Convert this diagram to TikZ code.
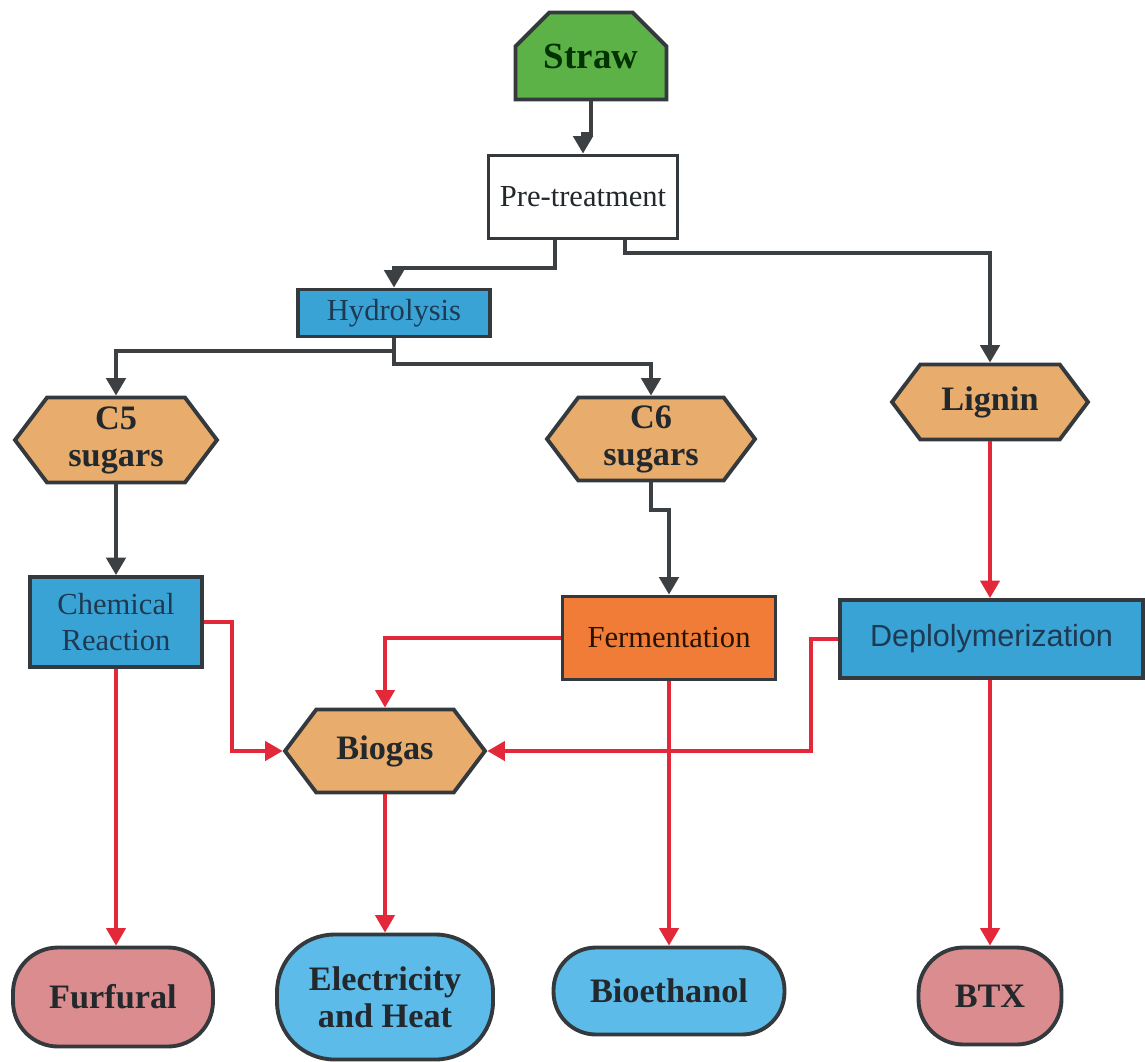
\documentclass[tikz,border=0pt]{standalone}
\usepackage{fontspec}
\setmainfont{Liberation Serif}
\newfontfamily\arialfont{Liberation Sans}
\usepackage{tikz}
\usepackage{xcolor}
\usetikzlibrary{shapes.geometric, shapes.misc, shapes.symbols, arrows.meta, positioning, calc}

\definecolor{strawgreen}{HTML}{5DB247}
\definecolor{edgegray}{HTML}{33393D}
\definecolor{procblue}{HTML}{3AA3D6}
\definecolor{sugartan}{HTML}{E8AC6C}
\definecolor{fermorange}{HTML}{F07C38}
\definecolor{prodpink}{HTML}{DA8C8E}
\definecolor{prodblue}{HTML}{5CBBE8}
\definecolor{navytext}{HTML}{1D3A52}
\definecolor{darktext}{HTML}{22282B}
\definecolor{linegray}{HTML}{3C4043}
\definecolor{linered}{HTML}{E3283A}

\begin{document}
\begin{tikzpicture}[x=0.02cm, y=-0.02cm,
  box/.style={draw=edgegray, line width=2.2pt, align=center, inner sep=2pt, text=darktext},
  process/.style={box, rectangle, fill=procblue, text=navytext, font=\fontsize{17.4}{20}\selectfont},
  sugar/.style={box, signal, signal to=west and east, signal pointer angle=106, fill=sugartan, font=\fontsize{19.5}{21}\selectfont\bfseries},
  product/.style={box, rectangle, font=\fontsize{19.5}{21}\selectfont\bfseries},
  darkarrow/.style={draw=linegray, line width=2.3pt, -{Triangle[length=10pt,width=11pt]}},
  redarrow/.style={draw=linered, line width=2pt, -{Triangle[length=10pt,width=11pt]}},
]
\useasboundingbox (0,0) rectangle (1145,1061);

% feedstock and pre-treatment
\node[box, chamfered rectangle, chamfered rectangle corners={north west, north east},
      chamfered rectangle sep=0.36cm, fill=strawgreen, text=black!80!green,
      minimum width=3.02cm, minimum height=1.74cm,
      font=\fontsize{21}{24}\selectfont\bfseries] (straw) at (591,56) {Straw};
\node[box, rectangle, fill=white, minimum width=3.78cm, minimum height=1.66cm,
      font=\fontsize{17.4}{20}\selectfont] (pre) at (583,197) {Pre-treatment};
\node[process, minimum width=3.84cm, minimum height=0.94cm] (hyd) at (394,313) {Hydrolysis};

% fractions
\node[sugar, minimum width=4.04cm, minimum height=1.7cm] (c5) at (116,440) {C5\\sugars};
\node[sugar, minimum width=4.16cm, minimum height=1.66cm] (c6) at (651,439) {C6\\sugars};
\node[sugar, minimum width=3.92cm, minimum height=1.5cm] (lignin) at (990,402) {Lignin};

% conversion steps
\node[process, minimum width=3.44cm, minimum height=1.8cm] (chem) at (116,622) {Chemical\\Reaction};
\node[process, fill=fermorange, text=black!85!orange, minimum width=4.26cm, minimum height=1.66cm] (ferm) at (669,638) {Fermentation};
\node[process, font=\arialfont\fontsize{17.4}{20}\selectfont, minimum width=6.06cm, minimum height=1.56cm] (depol) at (991.5,639) {Deplolymerization};
\node[sugar, minimum width=4cm, minimum height=1.66cm] (biogas) at (385,751) {Biogas};

% end products
\node[product, fill=prodpink, rounded corners=0.9cm, minimum width=4cm, minimum height=1.98cm] (furf) at (113,997) {Furfural};
\node[product, fill=prodblue, rounded corners=1.15cm, minimum width=4.32cm, minimum height=2.5cm] (elec) at (385,997) {Electricity\\and Heat};
\node[product, fill=prodblue, rounded corners=0.85cm, minimum width=4.62cm, minimum height=1.74cm] (bioeth) at (669,991) {Bioethanol};
\node[product, fill=prodpink, rounded corners=0.9cm, minimum width=2.86cm, minimum height=1.94cm] (btx) at (990,996) {BTX};

% dark connectors
\draw[darkarrow] (straw.south) -- ++(0,33) -| (pre.north);
\draw[darkarrow] ([xshift=-0.56cm]pre.south) -- ++(0,28) -| (hyd.north);
\draw[darkarrow] ([xshift=0.84cm]pre.south) -- ++(0,13) -| (lignin.north);
\draw[darkarrow] (hyd.south) -- ++(0,13) -| (c5.north);
\draw[darkarrow] (hyd.south) -- ++(0,26) -| (c6.north);
\draw[darkarrow] (c5.south) -- (chem.north);
\draw[darkarrow] (c6.south) -- ++(0,28) -| (ferm.north);

% red connectors
\draw[redarrow] (lignin.south) -- (lignin.south |- depol.north);
\draw[redarrow] (chem.east) -- ++(28,0) |- (biogas.west);
\draw[redarrow] (ferm.west) -| (biogas.north);
\draw[redarrow] (depol.west) -- ++(-27,0) |- (biogas.east);
\draw[redarrow] (chem.south) -- (chem.south |- furf.north);
\draw[redarrow] (biogas.south) -- (elec.north);
\draw[redarrow] (ferm.south) -- (bioeth.north);
\draw[redarrow] (btx.north |- depol.south) -- (btx.north);
\end{tikzpicture}
\end{document}
